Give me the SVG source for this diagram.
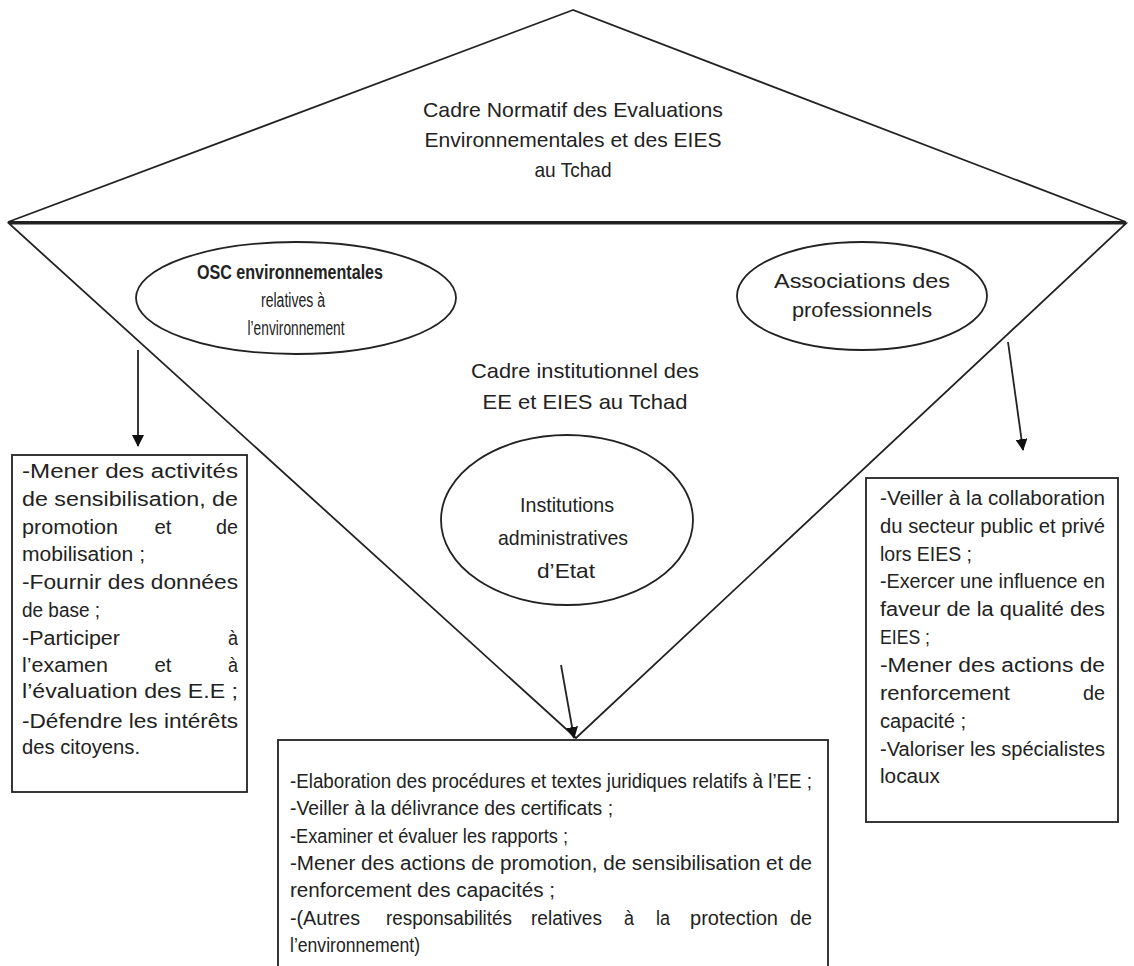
<svg xmlns="http://www.w3.org/2000/svg" width="1134" height="966" viewBox="0 0 1134 966">
<style>
.t{font-family:"Liberation Sans Narrow","Liberation Sans",Arial,sans-serif;font-size:20px;fill:#222}
.h{font-size:21px}
.m{text-anchor:middle}
.e{text-anchor:end}
.s{fill:none;stroke:#222;stroke-width:1.8}
.b{fill:#fff;stroke:#222;stroke-width:1.8}
</style>
<defs>
<marker id="ah" markerWidth="12" markerHeight="12" refX="11" refY="6" orient="auto" markerUnits="userSpaceOnUse">
<path d="M0,0 L12,6 L0,12 Z" fill="#111"/>
</marker>
</defs>
<rect width="1134" height="966" fill="#fff"/>
<g id="cadre-normatif">
<polygon class="s" points="573,10 8,222 1126,222"/>
<text class="t h m" x="573" y="117" textLength="300" lengthAdjust="spacingAndGlyphs">Cadre Normatif des Evaluations</text>
<text class="t h m" x="573" y="147" textLength="297" lengthAdjust="spacingAndGlyphs">Environnementales et des EIES</text>
<text class="t h m" x="573" y="177" textLength="77" lengthAdjust="spacingAndGlyphs">au Tchad</text>
</g>
<g id="cadre-institutionnel">
<polygon class="s" points="9,223.5 1126,223.5 576,738"/>
<text class="t h m" x="585" y="378" textLength="228" lengthAdjust="spacingAndGlyphs">Cadre institutionnel des</text>
<text class="t h m" x="585" y="409" textLength="205" lengthAdjust="spacingAndGlyphs">EE et EIES au Tchad</text>
</g>
<g id="osc">
<ellipse class="b" cx="296" cy="298" rx="160" ry="56"/>
<text class="t m" x="290" y="279" font-weight="bold" textLength="186" lengthAdjust="spacingAndGlyphs">OSC environnementales</text>
<text class="t m" x="293" y="307" textLength="64" lengthAdjust="spacingAndGlyphs">relatives à</text>
<text class="t m" x="296" y="335" textLength="97" lengthAdjust="spacingAndGlyphs">l’environnement</text>
</g>
<g id="associations">
<ellipse class="b" cx="862" cy="296" rx="125" ry="54"/>
<text class="t h m" x="862" y="288" textLength="176" lengthAdjust="spacingAndGlyphs">Associations des</text>
<text class="t h m" x="862" y="317" textLength="140" lengthAdjust="spacingAndGlyphs">professionnels</text>
</g>
<g id="institutions">
<ellipse class="b" cx="567" cy="520" rx="126" ry="85"/>
<text class="t h m" x="567" y="512" textLength="94" lengthAdjust="spacingAndGlyphs">Institutions</text>
<text class="t h m" x="563" y="545" textLength="130" lengthAdjust="spacingAndGlyphs">administratives</text>
<text class="t h m" x="566" y="578" textLength="58" lengthAdjust="spacingAndGlyphs">d’Etat</text>
</g>
<g id="connectors">
<line class="s" x1="138" y1="350" x2="138" y2="446" marker-end="url(#ah)"/>
<line class="s" x1="1008" y1="342" x2="1023" y2="450" marker-end="url(#ah)"/>
<line class="s" x1="561" y1="665" x2="574" y2="738" marker-end="url(#ah)"/>
</g>
<g id="box-osc">
<rect class="b" x="12" y="455" width="235" height="337"/>
<text class="t" x="22" y="478" textLength="216" lengthAdjust="spacingAndGlyphs">-Mener des activités</text>
<text class="t" x="22" y="506" textLength="216" lengthAdjust="spacingAndGlyphs">de sensibilisation, de</text>
<text class="t" x="22" y="534" textLength="96" lengthAdjust="spacingAndGlyphs">promotion</text><text class="t m" x="163" y="534" textLength="17" lengthAdjust="spacingAndGlyphs">et</text><text class="t e" x="238" y="534" textLength="22" lengthAdjust="spacingAndGlyphs">de</text>
<text class="t" x="22" y="561" textLength="123" lengthAdjust="spacingAndGlyphs">mobilisation ;</text>
<text class="t" x="22" y="589" textLength="216" lengthAdjust="spacingAndGlyphs">-Fournir des données</text>
<text class="t" x="22" y="617" textLength="78" lengthAdjust="spacingAndGlyphs">de base ;</text>
<text class="t" x="22" y="645" textLength="98" lengthAdjust="spacingAndGlyphs">-Participer</text><text class="t e" x="238" y="645" textLength="10" lengthAdjust="spacingAndGlyphs">à</text>
<text class="t" x="22" y="672" textLength="86" lengthAdjust="spacingAndGlyphs">l’examen</text><text class="t m" x="163" y="672" textLength="17" lengthAdjust="spacingAndGlyphs">et</text><text class="t e" x="238" y="672" textLength="10" lengthAdjust="spacingAndGlyphs">à</text>
<text class="t" x="22" y="698" textLength="216" lengthAdjust="spacingAndGlyphs">l’évaluation des E.E ;</text>
<text class="t" x="22" y="728" textLength="216" lengthAdjust="spacingAndGlyphs">-Défendre les intérêts</text>
<text class="t" x="22" y="754" textLength="118" lengthAdjust="spacingAndGlyphs">des citoyens.</text>
</g>
<g id="box-associations">
<rect class="b" x="866" y="478" width="252" height="344"/>
<text class="t" x="880" y="505" textLength="225" lengthAdjust="spacingAndGlyphs">-Veiller à la collaboration</text>
<text class="t" x="880" y="533" textLength="225" lengthAdjust="spacingAndGlyphs">du secteur public et privé</text>
<text class="t" x="880" y="561" textLength="92" lengthAdjust="spacingAndGlyphs">lors EIES ;</text>
<text class="t" x="880" y="588" textLength="225" lengthAdjust="spacingAndGlyphs">-Exercer une influence en</text>
<text class="t" x="880" y="616" textLength="225" lengthAdjust="spacingAndGlyphs">faveur de la qualité des</text>
<text class="t" x="880" y="644" textLength="50" lengthAdjust="spacingAndGlyphs">EIES ;</text>
<text class="t" x="880" y="672" textLength="225" lengthAdjust="spacingAndGlyphs">-Mener des actions de</text>
<text class="t" x="880" y="700" textLength="130" lengthAdjust="spacingAndGlyphs">renforcement</text><text class="t e" x="1105" y="700" textLength="22" lengthAdjust="spacingAndGlyphs">de</text>
<text class="t" x="880" y="728" textLength="86" lengthAdjust="spacingAndGlyphs">capacité ;</text>
<text class="t" x="880" y="756" textLength="225" lengthAdjust="spacingAndGlyphs">-Valoriser les spécialistes</text>
<text class="t" x="880" y="783" textLength="60" lengthAdjust="spacingAndGlyphs">locaux</text>
</g>
<g id="box-institutions">
<rect class="b" x="278" y="740" width="550" height="240"/>
<text class="t" x="290" y="788" textLength="522" lengthAdjust="spacingAndGlyphs">-Elaboration des procédures et textes juridiques relatifs à l’EE ;</text>
<text class="t" x="290" y="815" textLength="323" lengthAdjust="spacingAndGlyphs">-Veiller à la délivrance des certificats ;</text>
<text class="t" x="290" y="843" textLength="278" lengthAdjust="spacingAndGlyphs">-Examiner et évaluer les rapports ;</text>
<text class="t" x="290" y="870" textLength="522" lengthAdjust="spacingAndGlyphs">-Mener des actions de promotion, de sensibilisation et de</text>
<text class="t" x="290" y="897" textLength="265" lengthAdjust="spacingAndGlyphs">renforcement des capacités ;</text>
<text class="t" x="290" y="925" textLength="70" lengthAdjust="spacingAndGlyphs">-(Autres</text><text class="t" x="386" y="925" textLength="126" lengthAdjust="spacingAndGlyphs">responsabilités</text><text class="t" x="531" y="925" textLength="71" lengthAdjust="spacingAndGlyphs">relatives</text><text class="t" x="624" y="925" textLength="10" lengthAdjust="spacingAndGlyphs">à</text><text class="t" x="656" y="925" textLength="14" lengthAdjust="spacingAndGlyphs">la</text><text class="t" x="690" y="925" textLength="88" lengthAdjust="spacingAndGlyphs">protection</text><text class="t e" x="812" y="925" textLength="22" lengthAdjust="spacingAndGlyphs">de</text>
<text class="t" x="290" y="952" textLength="130" lengthAdjust="spacingAndGlyphs">l’environnement)</text>
</g>
</svg>
